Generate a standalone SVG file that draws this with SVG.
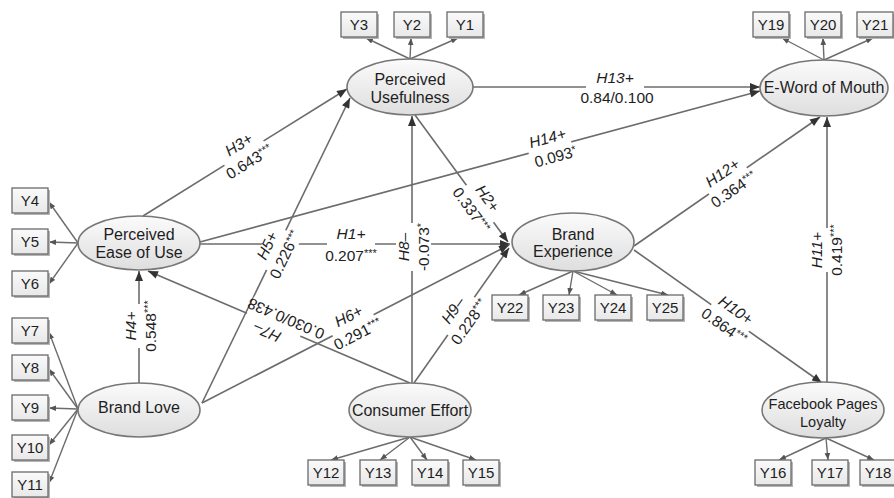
<svg xmlns="http://www.w3.org/2000/svg" width="894" height="498" viewBox="0 0 894 498">
<defs>
<linearGradient id="eg" x1="0" y1="0" x2="0" y2="1">
<stop offset="0" stop-color="#fbfbfb"/>
<stop offset="1" stop-color="#dedede"/>
</linearGradient>
<linearGradient id="bg" x1="0" y1="0" x2="0" y2="1">
<stop offset="0" stop-color="#fafafa"/>
<stop offset="1" stop-color="#e8e8e8"/>
</linearGradient>
<marker id="ah" viewBox="0 0 10 8" refX="10" refY="4" markerWidth="11" markerHeight="8" orient="auto" markerUnits="userSpaceOnUse">
<path d="M0,0 L10,4 L0,8 z" fill="#333"/>
</marker>
<marker id="as" viewBox="0 0 10 8" refX="10" refY="4" markerWidth="7" markerHeight="6" orient="auto" markerUnits="userSpaceOnUse">
<path d="M0,0 L10,4 L0,8 z" fill="#555"/>
</marker>
</defs>
<style>
text{font-family:"Liberation Sans",Arial,sans-serif;fill:#1e1e1e;text-anchor:middle}
.nt{font-size:16px}
.ft{font-size:14.5px}
.bt{font-size:15px}
.hl{font-size:15.5px;font-style:italic}
.nl{font-size:15.5px}
.ast{font-size:11px}
.ln{stroke:#6c6c6c;stroke-width:1.6;fill:none}
.str{marker-end:url(#ah)}
.ind{stroke-width:1.4;marker-end:url(#as)}
.el{fill:url(#eg);stroke:#777;stroke-width:1.6}
.box{fill:url(#bg);stroke:#6a6a6a;stroke-width:1.3}
.shd{fill:#b5b5b5}
.lb{fill:#fff}
</style>
<rect width="894" height="498" fill="#fff"/>

<g id="connectors">
<line class="ln str" x1="473" y1="87" x2="760" y2="87"/>
<line class="ln str" x1="200" y1="242" x2="760" y2="91"/>
<line class="ln str" x1="143" y1="216" x2="347" y2="89"/>
<line class="ln str" x1="202" y1="403" x2="350" y2="98"/>
<line class="ln str" x1="139" y1="383" x2="139" y2="271"/>
<line class="ln str" x1="410" y1="383" x2="148" y2="271"/>
<line class="ln str" x1="412" y1="383" x2="412" y2="116"/>
<line class="ln str" x1="200" y1="244" x2="510" y2="244"/>
<line class="ln str" x1="415" y1="115" x2="508" y2="242"/>
<line class="ln str" x1="202" y1="403" x2="509" y2="245"/>
<line class="ln str" x1="414" y1="383" x2="509" y2="248"/>
<line class="ln str" x1="634" y1="246" x2="820" y2="117"/>
<line class="ln str" x1="634" y1="250" x2="822" y2="383"/>
<line class="ln str" x1="827" y1="383" x2="827" y2="117"/>
<line class="ln ind" x1="410" y1="59" x2="366" y2="38"/>
<line class="ln ind" x1="410" y1="59" x2="411" y2="38"/>
<line class="ln ind" x1="410" y1="59" x2="458" y2="38"/>
<line class="ln ind" x1="824" y1="60" x2="782" y2="38"/>
<line class="ln ind" x1="824" y1="60" x2="823" y2="38"/>
<line class="ln ind" x1="824" y1="60" x2="873" y2="38"/>
<line class="ln ind" x1="78" y1="243" x2="49" y2="202"/>
<line class="ln ind" x1="78" y1="243" x2="49" y2="242"/>
<line class="ln ind" x1="78" y1="243" x2="49" y2="284"/>
<line class="ln ind" x1="78" y1="409" x2="49" y2="332"/>
<line class="ln ind" x1="78" y1="409" x2="49" y2="369"/>
<line class="ln ind" x1="78" y1="409" x2="49" y2="408"/>
<line class="ln ind" x1="78" y1="409" x2="49" y2="445"/>
<line class="ln ind" x1="78" y1="409" x2="49" y2="483"/>
<line class="ln ind" x1="410" y1="437" x2="331" y2="460"/>
<line class="ln ind" x1="410" y1="437" x2="380" y2="460"/>
<line class="ln ind" x1="410" y1="437" x2="427" y2="460"/>
<line class="ln ind" x1="410" y1="437" x2="476" y2="460"/>
<line class="ln ind" x1="573" y1="271" x2="519" y2="295"/>
<line class="ln ind" x1="573" y1="271" x2="569" y2="295"/>
<line class="ln ind" x1="573" y1="271" x2="617" y2="295"/>
<line class="ln ind" x1="573" y1="271" x2="668" y2="295"/>
<line class="ln ind" x1="826" y1="438" x2="779" y2="460"/>
<line class="ln ind" x1="826" y1="438" x2="828" y2="460"/>
<line class="ln ind" x1="826" y1="438" x2="874" y2="460"/>
</g>

<g id="labels">
<g transform="translate(615,87)"><rect class="lb" x="-29" y="-17" width="58" height="35"/><text class="hl" y="-4.5">H13+</text><text class="nl" x="2" y="16">0.84/0.100</text></g>
<g transform="translate(550,147.6) rotate(-15.1)"><rect class="lb" x="-22" y="-17" width="44" height="35"/><text class="hl" y="-4.5">H14+</text><text class="nl" x="3" y="15.5">0.093<tspan class="ast" dy="-4">*</tspan></text></g>
<g transform="translate(244,153) rotate(-31.9)"><rect class="lb" x="-23" y="-17" width="46" height="35"/><text class="hl" y="-4.5">H3+</text><text class="nl" y="15.5">0.643<tspan class="ast" dy="-4">***</tspan></text></g>
<g transform="translate(276,250) rotate(-64.1)"><rect class="lb" x="-22" y="-15" width="44" height="33"/><text class="hl" y="-4.5">H5+</text><text class="nl" y="15.5">0.226<tspan class="ast" dy="-4">***</tspan></text></g>
<g transform="translate(351,244)"><rect class="lb" x="-24" y="-17" width="48" height="35"/><text class="hl" y="-5.5">H1+</text><text class="nl" y="16.5">0.207<tspan class="ast" dy="-4">***</tspan></text></g>
<g transform="translate(413,247) rotate(-90)"><rect class="lb" x="-24" y="-17" width="48" height="35"/><text class="hl" y="-4.5">H8–</text><text class="nl" y="15.5">-0.073<tspan class="ast" dy="-4">*</tspan></text></g>
<g transform="translate(479.5,204) rotate(54.1)"><rect class="lb" x="-23" y="-17" width="46" height="35"/><text class="hl" y="-4.5">H2+</text><text class="nl" y="15.5">0.337<tspan class="ast" dy="-4">***</tspan></text></g>
<g transform="translate(353,325) rotate(-27.2)"><rect class="lb" x="-23" y="-17" width="46" height="35"/><text class="hl" y="-4.5">H6+</text><text class="nl" y="15.5">0.291<tspan class="ast" dy="-4">***</tspan></text></g>
<g transform="translate(461,316) rotate(-54.9)"><rect class="lb" x="-23" y="-17" width="46" height="35"/><text class="hl" y="-4.5">H9–</text><text class="nl" y="15.5">0.228<tspan class="ast" dy="-4">***</tspan></text></g>
<g transform="translate(282,328) rotate(203.3)"><rect class="lb" x="-20" y="-17" width="58" height="35"/><text class="hl" x="12" y="-4.5">H7–</text><text class="nl" y="15.5">0.030/0.438</text></g>
<g transform="translate(140,326) rotate(-90)"><rect class="lb" x="-22" y="-17" width="44" height="35"/><text class="hl" y="-4.5">H4+</text><text class="nl" y="15.5">0.548<tspan class="ast" dy="-4">***</tspan></text></g>
<g transform="translate(728,181) rotate(-34.7)"><rect class="lb" x="-23" y="-17" width="46" height="35"/><text class="hl" y="-4.5">H12+</text><text class="nl" y="15.5">0.364<tspan class="ast" dy="-4">***</tspan></text></g>
<g transform="translate(730,318) rotate(35.3)"><rect class="lb" x="-23" y="-17" width="46" height="35"/><text class="hl" y="-4.5">H10+</text><text class="nl" y="15.5">0.864<tspan class="ast" dy="-4">***</tspan></text></g>
<g transform="translate(826,250) rotate(-90)"><rect class="lb" x="-22" y="-17" width="44" height="35"/><text class="hl" y="-4.5">H11+</text><text class="nl" y="15.5">0.419<tspan class="ast" dy="-4">***</tspan></text></g>
</g>

<g id="perceived-usefulness"><ellipse class="el" cx="410" cy="87" rx="63" ry="28"/><text class="nt" x="410" y="85">Perceived</text><text class="nt" x="410" y="103">Usefulness</text></g>
<g id="perceived-ease-of-use"><ellipse class="el" cx="139" cy="243" rx="61" ry="27"/><text class="nt" x="139" y="240">Perceived</text><text class="nt" x="139" y="258">Ease of Use</text></g>
<g id="brand-love"><ellipse class="el" cx="139" cy="410" rx="61" ry="27"/><text class="nt" x="139" y="413">Brand Love</text></g>
<g id="consumer-effort"><ellipse class="el" cx="410" cy="410" rx="61" ry="27"/><text class="nt" x="410" y="416">Consumer Effort</text></g>
<g id="brand-experience"><ellipse class="el" cx="573" cy="242" rx="61" ry="29"/><text class="nt" x="573" y="240">Brand</text><text class="nt" x="573" y="257">Experience</text></g>
<g id="e-word-of-mouth"><ellipse class="el" cx="824" cy="88" rx="64" ry="28"/><text class="nt" x="824" y="93">E-Word of Mouth</text></g>
<g id="facebook-pages-loyalty"><ellipse class="el" cx="823" cy="410" rx="61" ry="28"/><text class="ft" x="823" y="409">Facebook Pages</text><text class="ft" x="823" y="427">Loyalty</text></g>

<g id="y3"><rect class="shd" x="343" y="14" width="36" height="25"/><rect class="box" x="341" y="12" width="36" height="25"/><text class="bt" x="359" y="30">Y3</text></g>
<g id="y2"><rect class="shd" x="396" y="14" width="36" height="25"/><rect class="box" x="394" y="12" width="36" height="25"/><text class="bt" x="412" y="30">Y2</text></g>
<g id="y1"><rect class="shd" x="449" y="14" width="36" height="25"/><rect class="box" x="447" y="12" width="36" height="25"/><text class="bt" x="465" y="30">Y1</text></g>
<g id="y19"><rect class="shd" x="755" y="14" width="36" height="25"/><rect class="box" x="753" y="12" width="36" height="25"/><text class="bt" x="771" y="30">Y19</text></g>
<g id="y20"><rect class="shd" x="807" y="14" width="36" height="25"/><rect class="box" x="805" y="12" width="36" height="25"/><text class="bt" x="823" y="30">Y20</text></g>
<g id="y21"><rect class="shd" x="859" y="14" width="36" height="25"/><rect class="box" x="857" y="12" width="36" height="25"/><text class="bt" x="875" y="30">Y21</text></g>
<g id="y4"><rect class="shd" x="14" y="190" width="36" height="25"/><rect class="box" x="12" y="188" width="36" height="25"/><text class="bt" x="30" y="206">Y4</text></g>
<g id="y5"><rect class="shd" x="14" y="231" width="36" height="25"/><rect class="box" x="12" y="229" width="36" height="25"/><text class="bt" x="30" y="247">Y5</text></g>
<g id="y6"><rect class="shd" x="14" y="273" width="36" height="25"/><rect class="box" x="12" y="271" width="36" height="25"/><text class="bt" x="30" y="289">Y6</text></g>
<g id="y7"><rect class="shd" x="14" y="320" width="36" height="25"/><rect class="box" x="12" y="318" width="36" height="25"/><text class="bt" x="30" y="336">Y7</text></g>
<g id="y8"><rect class="shd" x="14" y="357" width="36" height="25"/><rect class="box" x="12" y="355" width="36" height="25"/><text class="bt" x="30" y="373">Y8</text></g>
<g id="y9"><rect class="shd" x="14" y="397" width="36" height="25"/><rect class="box" x="12" y="395" width="36" height="25"/><text class="bt" x="30" y="413">Y9</text></g>
<g id="y10"><rect class="shd" x="14" y="437" width="36" height="25"/><rect class="box" x="12" y="435" width="36" height="25"/><text class="bt" x="30" y="453">Y10</text></g>
<g id="y11"><rect class="shd" x="14" y="474" width="36" height="25"/><rect class="box" x="12" y="472" width="36" height="25"/><text class="bt" x="30" y="490">Y11</text></g>
<g id="y12"><rect class="shd" x="310" y="462" width="36" height="25"/><rect class="box" x="308" y="460" width="36" height="25"/><text class="bt" x="326" y="478">Y12</text></g>
<g id="y13"><rect class="shd" x="362" y="462" width="36" height="25"/><rect class="box" x="360" y="460" width="36" height="25"/><text class="bt" x="378" y="478">Y13</text></g>
<g id="y14"><rect class="shd" x="414" y="462" width="36" height="25"/><rect class="box" x="412" y="460" width="36" height="25"/><text class="bt" x="430" y="478">Y14</text></g>
<g id="y15"><rect class="shd" x="465" y="462" width="36" height="25"/><rect class="box" x="463" y="460" width="36" height="25"/><text class="bt" x="481" y="478">Y15</text></g>
<g id="y22"><rect class="shd" x="494" y="297" width="36" height="25"/><rect class="box" x="492" y="295" width="36" height="25"/><text class="bt" x="510" y="313">Y22</text></g>
<g id="y23"><rect class="shd" x="545" y="297" width="36" height="25"/><rect class="box" x="543" y="295" width="36" height="25"/><text class="bt" x="561" y="313">Y23</text></g>
<g id="y24"><rect class="shd" x="597" y="297" width="36" height="25"/><rect class="box" x="595" y="295" width="36" height="25"/><text class="bt" x="613" y="313">Y24</text></g>
<g id="y25"><rect class="shd" x="649" y="297" width="36" height="25"/><rect class="box" x="647" y="295" width="36" height="25"/><text class="bt" x="665" y="313">Y25</text></g>
<g id="y16"><rect class="shd" x="757" y="462" width="36" height="25"/><rect class="box" x="755" y="460" width="36" height="25"/><text class="bt" x="773" y="478">Y16</text></g>
<g id="y17"><rect class="shd" x="814" y="462" width="36" height="25"/><rect class="box" x="812" y="460" width="36" height="25"/><text class="bt" x="830" y="478">Y17</text></g>
<g id="y18"><rect class="shd" x="862" y="462" width="36" height="25"/><rect class="box" x="860" y="460" width="36" height="25"/><text class="bt" x="878" y="478">Y18</text></g>
</svg>
